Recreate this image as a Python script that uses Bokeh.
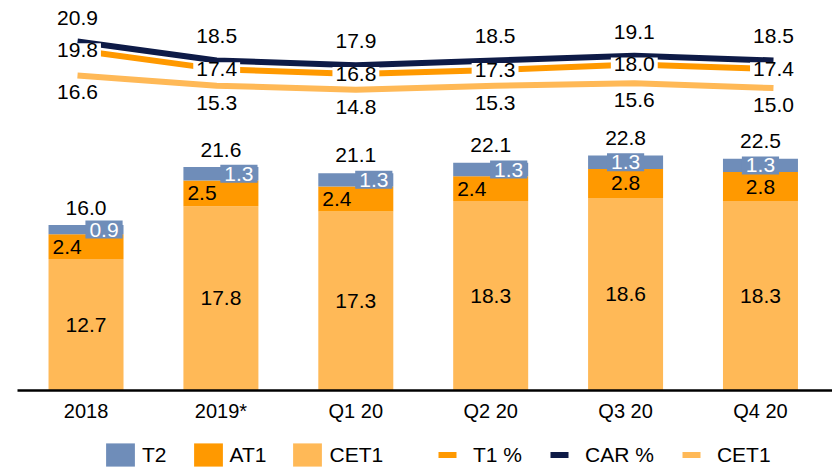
from bokeh.plotting import figure
from bokeh.layouts import column
from bokeh.models import Range1d, FixedTicker, ColumnDataSource, Legend, LegendItem
from bokeh.core.properties import value
from bokeh.embed import file_html
from bokeh.resources import INLINE

# ---- data ----
categories = ["2018", "2019*", "Q1 20", "Q2 20", "Q3 20", "Q4 20"]
cet1 = [12.7, 17.8, 17.3, 18.3, 18.6, 18.3]
at1 = [2.4, 2.5, 2.4, 2.4, 2.8, 2.8]
t2 = [0.9, 1.3, 1.3, 1.3, 1.3, 1.3]
totals = [16.0, 21.6, 21.1, 22.1, 22.8, 22.5]
car_pct = [20.9, 18.5, 17.9, 18.5, 19.1, 18.5]
t1_pct = [19.8, 17.4, 16.8, 17.3, 18.0, 17.4]
cet1_pct = [16.6, 15.3, 14.8, 15.3, 15.6, 15.0]
# label placement of the small T2 / AT1 labels
t2_label_side = ["right", "right", "right", "right", "center", "center"]

# ---- styles ----
FONT = "Liberation Sans"
C_T2 = "#6F8DB9"
C_AT1 = "#FF9900"
C_CET1 = "#FFB957"
C_CAR = "#0E1B47"
BAR_W = 0.556
FS = "21px"

n = len(categories)
xs = list(range(n))
at1_bottom = [c for c in cet1]
at1_top = [c + a for c, a in zip(cet1, at1)]
t2_top = [c + a + t for c, a, t in zip(cet1, at1, t2)]

src = ColumnDataSource(dict(
    x=xs,
    cet1=cet1, at1_bottom=at1_bottom, at1_top=at1_top, t2_top=t2_top,
    cet1_mid=[c / 2 for c in cet1],
    at1_mid=[(b + t) / 2 for b, t in zip(at1_bottom, at1_top)],
    t2_mid=[(b + t) / 2 for b, t in zip(at1_top, t2_top)],
    totals=totals,
    cet1_lbl=[f"{v:.1f}" for v in cet1],
    at1_lbl=[f"{v:.1f}" for v in at1],
    t2_lbl=[f"{v:.1f}" for v in t2],
    tot_lbl=[f"{v:.1f}" for v in totals],
    at1_x=[x - BAR_W / 2 if s == "right" else x for x, s in zip(xs, t2_label_side)],
    at1_align=["left" if s == "right" else "center" for s in t2_label_side],
    at1_dx=[4 if s == "right" else 0 for s in t2_label_side],
    t2_dx=[18 if s == "right" else 0 for s in t2_label_side],
))

lsrc = ColumnDataSource(dict(
    x=xs, car=car_pct, t1=t1_pct, ce=cet1_pct,
    car_lbl=[f"{v:.1f}" for v in car_pct],
    t1_lbl=[f"{v:.1f}" for v in t1_pct],
    ce_lbl=[f"{v:.1f}" for v in cet1_pct],
))

# ================= main chart =================
p = figure(width=832, height=425, output_backend="svg", toolbar_location=None,
           x_range=Range1d(-0.508, 5.534), y_range=Range1d(0, 37.68),
           y_axis_location=None,
           min_border_left=17, min_border_right=0, min_border_top=0, min_border_bottom=35)
p.extra_x_ranges = {"lines": Range1d(-0.431, 5.424)}
p.extra_y_ranges = {"ratio": Range1d(-23.277, 26.09)}
p.outline_line_color = None
p.xgrid.visible = False
p.ygrid.visible = False

ax = p.xaxis[0]
ax.ticker = FixedTicker(ticks=xs)
ax.major_label_overrides = {i: c for i, c in zip(xs, categories)}
ax.major_tick_line_color = None
ax.major_tick_out = 0
ax.minor_tick_line_color = None
ax.minor_tick_out = 0
ax.axis_line_color = "black"
ax.axis_line_width = 2.5
ax.major_label_text_font = FONT
ax.major_label_text_font_size = "20px"
ax.major_label_text_color = "black"
ax.major_label_standoff = 9

# bars
p.vbar(x="x", width=BAR_W, bottom=0, top="cet1", source=src,
       fill_color=C_CET1, line_color=None)
p.vbar(x="x", width=BAR_W, bottom="at1_bottom", top="at1_top", source=src,
       fill_color=C_AT1, line_color=None)
p.vbar(x="x", width=BAR_W, bottom="at1_top", top="t2_top", source=src,
       fill_color=C_T2, line_color=None)

txt = dict(text_font=value(FONT), text_font_size=FS, text_color="black")
p.text(x="x", y="cet1_mid", text="cet1_lbl", source=src, text_align="center",
       text_baseline="middle", **txt)
p.text(x="at1_x", y="at1_mid", text="at1_lbl", source=src, text_align="at1_align",
       x_offset="at1_dx", text_baseline="middle", **txt)
p.text(x="x", y="t2_mid", text="t2_lbl", source=src, text_align="center",
       text_baseline="middle", x_offset="t2_dx",
       text_font=value(FONT), text_font_size=FS, text_color="white",
       background_fill_color=C_T2, padding=(4, 2))
p.text(x="x", y="totals", text="tot_lbl", source=src, text_align="center",
       text_baseline="middle", y_offset=-17, **txt)

# ratio lines
lk = dict(source=lsrc, x_range_name="lines", y_range_name="ratio", line_width=6,
          line_cap="butt", line_join="round")
p.line(x="x", y="car", line_color=C_CAR, **lk)
p.line(x="x", y="t1", line_color=C_AT1, **lk)
p.line(x="x", y="ce", line_color=C_CET1, **lk)

tl = dict(source=lsrc, x_range_name="lines", y_range_name="ratio",
          text_align="center", text_baseline="middle", **txt)
p.text(x="x", y="car", text="car_lbl", y_offset=-24, **tl)
p.text(x="x", y="ce", text="ce_lbl", y_offset=17, **tl)
p.text(x="x", y="t1", text="t1_lbl", background_fill_color="white", padding=(3, 0), **tl)

# ================= legend strip =================
lg = figure(width=832, height=44, output_backend="svg", toolbar_location=None,
            x_range=Range1d(0, 1), y_range=Range1d(0, 1),
            x_axis_location=None, y_axis_location=None,
            min_border_left=0, min_border_right=0, min_border_top=0, min_border_bottom=0)
lg.outline_line_color = None
lg.xgrid.visible = False
lg.ygrid.visible = False

nan = float("nan")
k_t2 = lg.vbar(x=[nan], top=[nan], width=0.1, fill_color=C_T2, line_color=None)
k_at1 = lg.vbar(x=[nan], top=[nan], width=0.1, fill_color=C_AT1, line_color=None)
k_cet1 = lg.vbar(x=[nan], top=[nan], width=0.1, fill_color=C_CET1, line_color=None)
dash = dict(line_width=6, line_cap="butt", line_dash="0 9 18 100")
k_t1 = lg.line(x=[nan], y=[nan], line_color=C_AT1, **dash)
k_car = lg.line(x=[nan], y=[nan], line_color=C_CAR, **dash)
k_ce = lg.line(x=[nan], y=[nan], line_color=C_CET1, **dash)

leg_common = dict(orientation="horizontal", glyph_width=36, glyph_height=29,
                  padding=0, margin=0, border_line_color=None, background_fill_alpha=0,
                  label_text_font=FONT, label_text_font_size=FS,
                  label_text_color="black")
leg1 = Legend(items=[LegendItem(label="T2", renderers=[k_t2]),
                     LegendItem(label="AT1", renderers=[k_at1]),
                     LegendItem(label="CET1", renderers=[k_cet1])],
              location=(85, 0), label_standoff=4, spacing=23, **leg_common)
leg2 = Legend(items=[LegendItem(label="T1 %", renderers=[k_t1]),
                     LegendItem(label="CAR %", renderers=[k_car]),
                     LegendItem(label="CET1", renderers=[k_ce])],
              location=(412, 0), label_standoff=8, spacing=19, **leg_common)
lg.add_layout(leg1)
lg.add_layout(leg2)

layout = column(p, lg, spacing=0)
open("out.html", "w").write(file_html(layout, INLINE))
